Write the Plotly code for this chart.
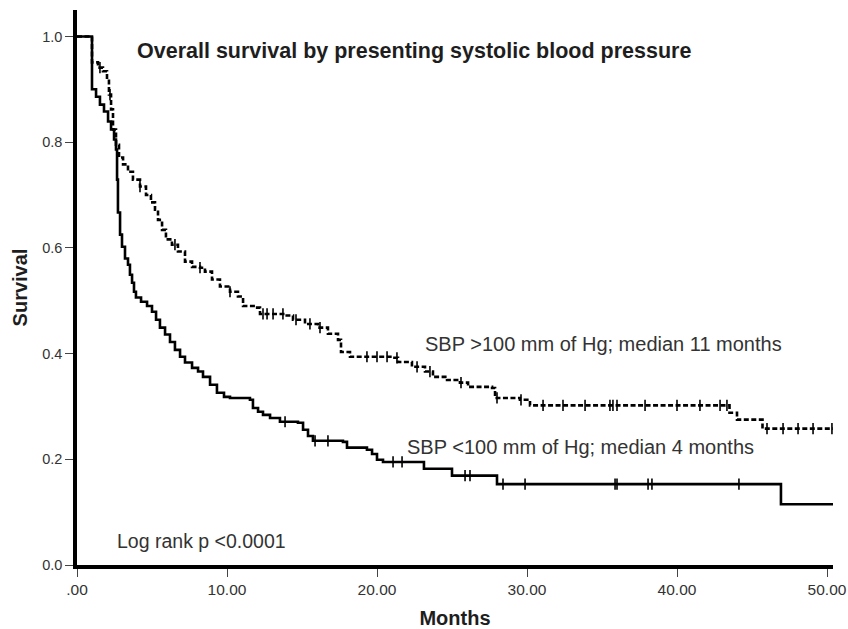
import bisect
import plotly.graph_objects as go

# Kaplan-Meier step points: SBP > 100 mm Hg
high_t = [0, 1.0, 1.4, 1.73, 2.0, 2.13, 2.27, 2.4, 2.6, 2.8, 3.07, 3.4, 3.73, 4.2, 4.6,
          4.93, 5.2, 5.4, 5.67, 5.93, 6.33, 6.73, 7.2, 7.67, 8.2, 8.53, 9.0, 9.53, 10.2,
          10.73, 11.07, 11.87, 12.2, 13.87, 14.4, 15.2, 16.07, 16.73, 17.4, 17.6, 18.2,
          21.07, 21.4, 22.33, 23.2, 23.73, 24.67, 25.53, 26.07, 27.67, 27.87, 29.53, 30.2,
          43.5, 44.0, 45.7, 50.4]
high_s = [1.0, 0.951, 0.941, 0.934, 0.919, 0.89, 0.862, 0.824, 0.795, 0.771, 0.758, 0.744,
          0.729, 0.716, 0.70, 0.686, 0.672, 0.653, 0.634, 0.616, 0.606, 0.593, 0.574, 0.564,
          0.5625, 0.555, 0.54, 0.527, 0.517, 0.508, 0.49, 0.487, 0.475, 0.472, 0.464, 0.456,
          0.449, 0.4375, 0.426, 0.403, 0.394, 0.392, 0.384, 0.375, 0.366, 0.356, 0.35, 0.345,
          0.337, 0.335, 0.316, 0.3125, 0.302, 0.288, 0.275, 0.258, 0.258]
high_censor = [1.53, 2.2, 4.2, 6.53, 8.2, 10.2, 12.4, 12.67, 13.07, 13.73, 14.6, 15.53, 16.2,
               19.33, 20.0, 20.67, 21.33, 22.67, 23.53, 25.6, 28.0, 29.6, 31.07, 32.4, 33.87,
               35.53, 35.73, 36.0, 37.87, 40.0, 41.53, 42.87, 43.33, 46.0, 47.07, 48.07,
               49.07, 50.33]

# Kaplan-Meier step points: SBP < 100 mm Hg
low_t = [0, 1.0, 1.27, 1.53, 1.8, 2.07, 2.27, 2.47, 2.6, 2.67, 2.73, 2.87, 3.0, 3.2, 3.4,
         3.53, 3.67, 3.8, 3.93, 4.27, 4.67, 5.0, 5.27, 5.53, 5.87, 6.2, 6.53, 6.87, 7.2,
         7.67, 8.07, 8.4, 8.87, 9.33, 9.8, 10.2, 11.53, 11.73, 12.07, 12.4, 12.87, 13.53,
         14.73, 15.07, 15.4, 15.73, 17.73, 18.0, 19.33, 19.67, 20.0, 20.4, 23.13, 25.0,
         28.0, 46.93, 50.4]
low_s = [1.0, 0.90, 0.886, 0.871, 0.858, 0.839, 0.824, 0.805, 0.786, 0.729, 0.667, 0.625,
         0.602, 0.58, 0.568, 0.549, 0.534, 0.517, 0.506, 0.498, 0.49, 0.479, 0.464, 0.449,
         0.436, 0.422, 0.407, 0.394, 0.383, 0.373, 0.366, 0.356, 0.341, 0.326, 0.318, 0.316,
         0.3125, 0.297, 0.29, 0.284, 0.278, 0.271, 0.269, 0.256, 0.244, 0.235, 0.233, 0.222,
         0.218, 0.21, 0.199, 0.195, 0.182, 0.169, 0.153, 0.115, 0.115]
low_censor = [13.87, 15.87, 16.73, 21.07, 21.67, 25.87, 26.2, 28.4, 29.87, 35.87, 36.0,
              38.07, 38.33, 44.13]

x_ticks = [0, 10, 20, 30, 40, 50]
x_tick_labels = [".00", "10.00", "20.00", "30.00", "40.00", "50.00"]
y_ticks = [0.0, 0.2, 0.4, 0.6, 0.8, 1.0]
y_tick_labels = ["0.0", "0.2", "0.4", "0.6", "0.8", "1.0"]

TEXT = "#333333"
DARK = "#1e1e1e"
FONT = "Liberation Sans, Arial, sans-serif"


def step_value(times, surv, t):
    i = bisect.bisect_right(times, t) - 1
    return surv[max(i, 0)]


fig = go.Figure()

fig.add_trace(go.Scatter(x=high_t, y=high_s, mode="lines", line_shape="hv",
                         line=dict(color="black", width=2.6, dash="5px,2.5px"),
                         showlegend=False, hoverinfo="skip"))
fig.add_trace(go.Scatter(x=low_t, y=low_s, mode="lines", line_shape="hv",
                         line=dict(color="black", width=2.6),
                         showlegend=False, hoverinfo="skip"))

# censored observations as small vertical ticks on each curve
censor_marker = dict(symbol="line-ns-open", size=8, color="black",
                     line=dict(color="black", width=1.6))
fig.add_trace(go.Scatter(x=high_censor,
                         y=[step_value(high_t, high_s, t) for t in high_censor],
                         mode="markers", marker=censor_marker,
                         showlegend=False, hoverinfo="skip"))
fig.add_trace(go.Scatter(x=low_censor,
                         y=[step_value(low_t, low_s, t) for t in low_censor],
                         mode="markers", marker=censor_marker,
                         showlegend=False, hoverinfo="skip"))

annotations = [
    dict(x=3.87, y=0.972, text="<b>Overall survival by presenting systolic blood pressure</b>",
         font=dict(size=21.5, color=DARK)),
    dict(x=23.07, y=0.4186, text="SBP >100 mm of Hg; median 11 months",
         font=dict(size=20, color=TEXT)),
    dict(x=21.87, y=0.2235, text="SBP <100 mm of Hg; median 4 months",
         font=dict(size=20, color=TEXT)),
    dict(x=2.53, y=0.045, text="Log rank p <0.0001",
         font=dict(size=19.5, color=TEXT)),
]
for a in annotations:
    a.update(xref="x", yref="y", xanchor="left", yanchor="middle", showarrow=False)

fig.update_layout(
    width=848, height=629,
    margin=dict(l=77, r=15, t=10, b=64),
    paper_bgcolor="white", plot_bgcolor="white",
    font=dict(family=FONT, color=TEXT),
    annotations=annotations,
    xaxis=dict(range=[0, 50.4], tickvals=x_ticks, ticktext=x_tick_labels,
               automargin=False,
               showgrid=False, zeroline=False, showline=True, linecolor="black",
               linewidth=3.5, ticks="outside", ticklen=8, tickwidth=1.3,
               tickcolor="#444444", tickfont=dict(size=15.5, color=TEXT),
               title=dict(text="<b>Months</b>", font=dict(size=20, color=DARK),
                          standoff=16)),
    yaxis=dict(range=[0, 1.05], tickvals=y_ticks, ticktext=y_tick_labels,
               automargin=False,
               showgrid=False, zeroline=False, showline=True, linecolor="black",
               linewidth=3.5, ticks="outside", ticklen=8, tickwidth=1.3,
               tickcolor="#444444", tickfont=dict(size=14.5, color=TEXT),
               title=dict(text="<b>Survival</b>", font=dict(size=20, color=DARK),
                          standoff=10)),
)

fig.write_html("out.html")
